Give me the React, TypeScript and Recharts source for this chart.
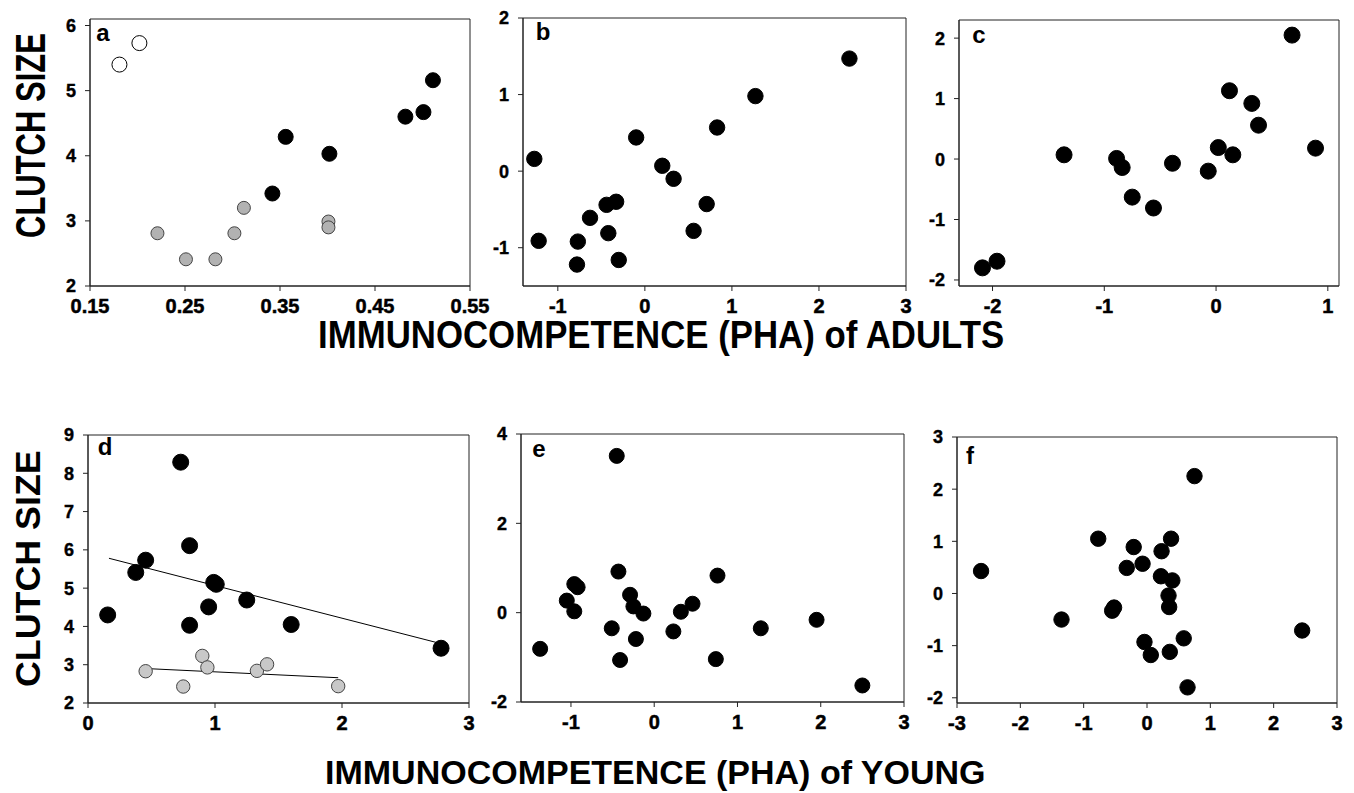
import React from "react";
import {
  ScatterChart,
  Scatter,
  XAxis,
  YAxis,
  ReferenceArea,
  ReferenceLine,
} from "recharts";

type Pt = { x: number; y: number };

// panel a: adults, raw clutch size
const aOpen: Pt[] = [
  { x: 0.181, y: 5.4 },
  { x: 0.202, y: 5.73 },
];
const aGray: Pt[] = [
  { x: 0.221, y: 2.81 },
  { x: 0.251, y: 2.41 },
  { x: 0.282, y: 2.41 },
  { x: 0.302, y: 2.81 },
  { x: 0.312, y: 3.2 },
  { x: 0.401, y: 2.99 },
  { x: 0.401, y: 2.9 },
];
const aBlack: Pt[] = [
  { x: 0.342, y: 3.42 },
  { x: 0.356, y: 4.29 },
  { x: 0.402, y: 4.03 },
  { x: 0.482, y: 4.6 },
  { x: 0.501, y: 4.67 },
  { x: 0.511, y: 5.16 },
];

// panel b
const bBlack: Pt[] = [
  { x: -1.27, y: 0.16 },
  { x: -1.22, y: -0.91 },
  { x: -0.77, y: -0.92 },
  { x: -0.78, y: -1.22 },
  { x: -0.63, y: -0.61 },
  { x: -0.44, y: -0.44 },
  { x: -0.33, y: -0.4 },
  { x: -0.42, y: -0.81 },
  { x: -0.3, y: -1.16 },
  { x: -0.1, y: 0.44 },
  { x: 0.2, y: 0.07 },
  { x: 0.33, y: -0.1 },
  { x: 0.56, y: -0.78 },
  { x: 0.71, y: -0.43 },
  { x: 0.83, y: 0.57 },
  { x: 1.27, y: 0.98 },
  { x: 2.35, y: 1.47 },
];

// panel c
const cBlack: Pt[] = [
  { x: -2.09, y: -1.8 },
  { x: -1.96, y: -1.69 },
  { x: -1.36, y: 0.07 },
  { x: -0.89, y: 0.01 },
  { x: -0.84, y: -0.14 },
  { x: -0.75, y: -0.63 },
  { x: -0.56, y: -0.81 },
  { x: -0.39, y: -0.07 },
  { x: -0.07, y: -0.2 },
  { x: 0.02, y: 0.19 },
  { x: 0.15, y: 0.07 },
  { x: 0.12, y: 1.13 },
  { x: 0.32, y: 0.92 },
  { x: 0.38, y: 0.56 },
  { x: 0.68, y: 2.05 },
  { x: 0.89, y: 0.18 },
];

// panel d: young, raw clutch size
const dBlack: Pt[] = [
  { x: 0.155, y: 4.3 },
  { x: 0.376, y: 5.41 },
  { x: 0.454, y: 5.73 },
  { x: 0.73, y: 8.29 },
  { x: 0.8, y: 6.11 },
  { x: 0.8, y: 4.03 },
  { x: 0.95, y: 4.51 },
  { x: 0.99, y: 5.15 },
  { x: 1.01, y: 5.1 },
  { x: 1.25, y: 4.69 },
  { x: 1.6, y: 4.05 },
  { x: 2.78, y: 3.43 },
];
const dGray: Pt[] = [
  { x: 0.454, y: 2.83 },
  { x: 0.75, y: 2.43 },
  { x: 0.9, y: 3.23 },
  { x: 0.94, y: 2.93 },
  { x: 1.33, y: 2.84 },
  { x: 1.41, y: 3.01 },
  { x: 1.97, y: 2.44 },
];
const dBlackFit: Pt[] = [
  { x: 0.165, y: 5.78 },
  { x: 2.78, y: 3.55 },
];
const dGrayFit: Pt[] = [
  { x: 0.454, y: 2.9 },
  { x: 1.97, y: 2.66 },
];

// panel e
const eBlack: Pt[] = [
  { x: -0.45, y: 3.51 },
  { x: -1.37, y: -0.81 },
  { x: -1.05, y: 0.27 },
  { x: -0.96, y: 0.03 },
  { x: -0.96, y: 0.64 },
  { x: -0.92, y: 0.57 },
  { x: -0.43, y: 0.92 },
  { x: -0.51, y: -0.35 },
  { x: -0.41, y: -1.06 },
  { x: -0.29, y: 0.4 },
  { x: -0.25, y: 0.14 },
  { x: -0.13, y: -0.02 },
  { x: -0.22, y: -0.59 },
  { x: 0.23, y: -0.42 },
  { x: 0.32, y: 0.02 },
  { x: 0.46, y: 0.2 },
  { x: 0.76, y: 0.83 },
  { x: 0.74, y: -1.04 },
  { x: 1.28, y: -0.35 },
  { x: 1.95, y: -0.16 },
  { x: 2.5, y: -1.63 },
];

// panel f
const fBlack: Pt[] = [
  { x: -2.62, y: 0.43 },
  { x: -1.35, y: -0.5 },
  { x: -0.77, y: 1.05 },
  { x: -0.55, y: -0.33 },
  { x: -0.52, y: -0.27 },
  { x: -0.32, y: 0.49 },
  { x: -0.21, y: 0.89 },
  { x: -0.07, y: 0.57 },
  { x: -0.04, y: -0.93 },
  { x: 0.06, y: -1.18 },
  { x: 0.23, y: 0.81 },
  { x: 0.22, y: 0.33 },
  { x: 0.38, y: 1.05 },
  { x: 0.4, y: 0.25 },
  { x: 0.34, y: -0.04 },
  { x: 0.35, y: -0.26 },
  { x: 0.36, y: -1.12 },
  { x: 0.58, y: -0.86 },
  { x: 0.64, y: -1.8 },
  { x: 0.75, y: 2.25 },
  { x: 2.45, y: -0.71 },
];

const ticksA = [0.15, 0.25, 0.35, 0.45, 0.55];
const ticksAy = [2, 3, 4, 5, 6];
const ticksB = [-1, 0, 1, 2, 3];
const ticksBy = [-1, 0, 1, 2];
const ticksC = [-2, -1, 0, 1];
const ticksCy = [-2, -1, 0, 1, 2];
const ticksD = [0, 1, 2, 3];
const ticksDy = [2, 3, 4, 5, 6, 7, 8, 9];
const ticksE = [-1, 0, 1, 2, 3];
const ticksEy = [-2, 0, 2, 4];
const ticksF = [-3, -2, -1, 0, 1, 2, 3];
const ticksFy = [-2, -1, 0, 1, 2, 3];

const FONT = "'Liberation Sans', Arial, Helvetica, sans-serif";
const YW = 48;
const MT = 10;
const MR = 26;
const XH = 44;

const dot =
  (r: number, fill: string, stroke: string) =>
  (props: any) =>
    (
      <circle
        cx={props.cx}
        cy={props.cy}
        r={r}
        fill={fill}
        stroke={stroke}
        strokeWidth={1}
      />
    );

// tick labels drawn by hand so the heavy face sticks
const XTick = (props: any) => {
  const { x, y, payload } = props;
  return (
    <text
      x={x}
      y={y}
      dy="0.72em"
      textAnchor="middle"
      fontFamily={FONT}
      fontWeight={700}
      fontSize={20}
      fill="#000"
      stroke="#000"
      strokeWidth={0.5}
    >
      {payload.value}
    </text>
  );
};

const YTick = (props: any) => {
  const { x, y, payload } = props;
  return (
    <text
      x={x}
      y={y}
      dy="0.36em"
      textAnchor="end"
      fontFamily={FONT}
      fontWeight={700}
      fontSize={18}
      fill="#000"
      stroke="#000"
      strokeWidth={0.4}
    >
      {payload.value}
    </text>
  );
};

type Series = { data: Pt[]; r: number; fill: string; stroke: string };

interface PanelProps {
  left: number;
  top: number;
  w: number;
  h: number;
  xDomain: [number, number];
  yDomain: [number, number];
  xTicks: number[];
  yTicks: number[];
  series: Series[];
  fits?: Pt[][];
  letter: string;
  lx: number;
  ly: number;
}

const Panel: React.FC<PanelProps> = ({
  left,
  top,
  w,
  h,
  xDomain,
  yDomain,
  xTicks,
  yTicks,
  series,
  fits = [],
  letter,
  lx,
  ly,
}) => {
  return (
    <>
      <div
        style={{
          position: "absolute",
          left: left - YW,
          top: top - MT,
          width: w + YW + MR,
          height: h + MT + XH,
        }}
      >
        <ScatterChart
          width={w + YW + MR}
          height={h + MT + XH}
          margin={{ top: MT, right: MR, left: 0, bottom: 0 }}
        >
          <XAxis
            type="number"
            dataKey="x"
            domain={xDomain}
            ticks={xTicks}
            interval={0}
            allowDataOverflow
            height={XH}
            tickSize={5}
            tickMargin={8}
            tick={<XTick />}
            stroke="#222"
          />
          <YAxis
            type="number"
            dataKey="y"
            domain={yDomain}
            ticks={yTicks}
            interval={0}
            allowDataOverflow
            width={YW}
            tickSize={5}
            tickMargin={9}
            tick={<YTick />}
            stroke="#222"
          />
          <ReferenceArea
            x1={xDomain[0]}
            x2={xDomain[1]}
            y1={yDomain[0]}
            y2={yDomain[1]}
            fill="none"
            fillOpacity={0}
            stroke="#222"
            strokeWidth={1}
            ifOverflow="visible"
          />
          {fits.map((seg, i) => (
            <ReferenceLine
              key={"fit" + i}
              segment={seg}
              stroke="#000"
              strokeWidth={1}
              ifOverflow="visible"
            />
          ))}
          {series.map((s, i) => (
            <Scatter
              key={"s" + i}
              data={s.data}
              shape={dot(s.r, s.fill, s.stroke)}
              isAnimationActive={false}
            />
          ))}
        </ScatterChart>
      </div>
      <div
        style={{
          position: "absolute",
          left: lx,
          top: ly,
          fontFamily: FONT,
          fontWeight: 700,
          fontSize: 24,
          lineHeight: "24px",
          transform: "translate(-50%, -50%)",
          color: "#000",
        }}
      >
        {letter}
      </div>
    </>
  );
};

const BLACK = "#000";

const App: React.FC = () => {
  return (
    <div
      style={{
        position: "absolute",
        left: 0,
        top: 0,
        width: 1354,
        height: 793,
        background: "#fff",
        overflow: "hidden",
      }}
    >
      <Panel
        left={90}
        top={19}
        w={380}
        h={267}
        xDomain={[0.15, 0.55]}
        yDomain={[2, 6.1]}
        xTicks={ticksA}
        yTicks={ticksAy}
        series={[
          { data: aOpen, r: 7.5, fill: "#fff", stroke: BLACK },
          { data: aGray, r: 6.5, fill: "#b2b2b2", stroke: "#444" },
          { data: aBlack, r: 7.5, fill: BLACK, stroke: BLACK },
        ]}
        letter="a"
        lx={103}
        ly={33}
      />
      <Panel
        left={523}
        top={18}
        w={383}
        h={268}
        xDomain={[-1.4, 3]}
        yDomain={[-1.5, 2]}
        xTicks={ticksB}
        yTicks={ticksBy}
        series={[{ data: bBlack, r: 7.7, fill: BLACK, stroke: BLACK }]}
        letter="b"
        lx={543}
        ly={32}
      />
      <Panel
        left={959}
        top={20}
        w={380}
        h={266}
        xDomain={[-2.3, 1.1]}
        yDomain={[-2.1, 2.3]}
        xTicks={ticksC}
        yTicks={ticksCy}
        series={[{ data: cBlack, r: 8, fill: BLACK, stroke: BLACK }]}
        letter="c"
        lx={979}
        ly={35}
      />
      <Panel
        left={88}
        top={435}
        w={381}
        h={268}
        xDomain={[0, 3]}
        yDomain={[2, 9]}
        xTicks={ticksD}
        yTicks={ticksDy}
        series={[
          { data: dGray, r: 6.7, fill: "#c8c8c8", stroke: "#444" },
          { data: dBlack, r: 8, fill: BLACK, stroke: BLACK },
        ]}
        fits={[dBlackFit, dGrayFit]}
        letter="d"
        lx={105}
        ly={447}
      />
      <Panel
        left={521}
        top={434}
        w={383}
        h={268}
        xDomain={[-1.6, 3]}
        yDomain={[-2, 4]}
        xTicks={ticksE}
        yTicks={ticksEy}
        series={[{ data: eBlack, r: 7.5, fill: BLACK, stroke: BLACK }]}
        letter="e"
        lx={539}
        ly={449}
      />
      <Panel
        left={957}
        top={437}
        w={380}
        h={266}
        xDomain={[-3, 3]}
        yDomain={[-2.1, 3]}
        xTicks={ticksF}
        yTicks={ticksFy}
        series={[{ data: fBlack, r: 7.7, fill: BLACK, stroke: BLACK }]}
        letter="f"
        lx={970}
        ly={456}
      />
      <svg
        width={1354}
        height={793}
        style={{ position: "absolute", left: 0, top: 0, pointerEvents: "none" }}
      >
        <g fontFamily={FONT} fontWeight={700} fill="#000">
          <text transform="translate(318, 348) scale(1, 1.1)" fontSize={34.8}>
            IMMUNOCOMPETENCE (PHA) of ADULTS
          </text>
          <text transform="translate(325, 784)" fontSize={34}>
            IMMUNOCOMPETENCE (PHA) of YOUNG
          </text>
          <text
            transform="translate(45, 238) rotate(-90) scale(1, 1.35)"
            fontSize={31}
          >
            CLUTCH SIZE
          </text>
          <text transform="translate(40, 687) rotate(-90)" fontSize={35.8}>
            CLUTCH SIZE
          </text>
        </g>
      </svg>
    </div>
  );
};

export default App;
